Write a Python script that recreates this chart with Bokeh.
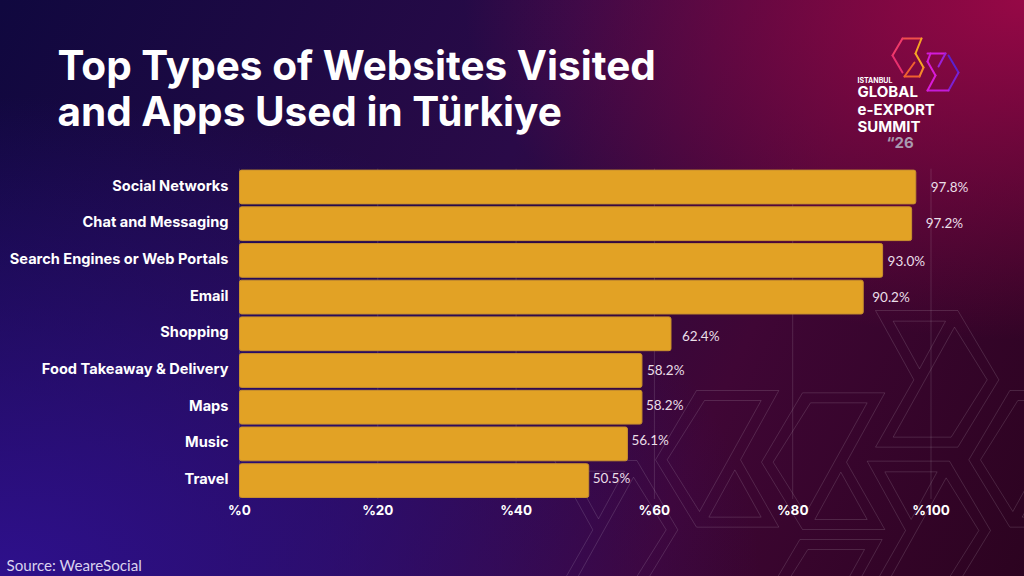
from bokeh.core.properties import value
from bokeh.embed import file_html
from bokeh.models import (ColumnDataSource, FixedTicker, GlobalInlineStyleSheet, Label,
                          LinearAxis, Range1d)
from bokeh.plotting import figure
from bokeh.resources import INLINE

categories = ["Social Networks", "Chat and Messaging", "Search Engines or Web Portals", "Email",
              "Shopping", "Food Takeaway & Delivery", "Maps", "Music", "Travel"]
values = [97.8, 97.2, 93.0, 90.2, 62.4, 58.2, 58.2, 56.1, 50.5]
x_ticks = [0, 20, 40, 60, 80, 100]
x_tick_labels = ["%0", "%20", "%40", "%60", "%80", "%100"]
title_lines = ["Top Types of Websites Visited", "and Apps Used in Türkiye"]
source_text = "Source: WeareSocial"

# the value labels sit unevenly in the original, pixels from the bar end / row centre
label_dx = [15, 14, 5, 9, 11, 5, 4, 4, 4]
label_dy = [0, -1, 1, 0, 2, -1, -2, -4, -3]

# page pixels of the axes: x=0 and x=100, first and last row
X0, X100 = 239.0, 930.5
ROW0, ROW_STEP = 186.5, 36.7
PAGE_W, PAGE_H = 1024, 576

css = """
html { background:
  radial-gradient(ellipse 560px 340px at 100% 0%, rgba(150,8,70,1), rgba(150,8,70,0)),
  radial-gradient(ellipse 760px 480px at 0% 100%, rgba(46,16,140,1), rgba(46,16,140,0)),
  linear-gradient(115deg, #10083f 0%, #2a0a48 45%, #3f0635 70%, #2c0320 100%);
  background-size: 1024px 576px; background-repeat: no-repeat; }
"""

px_per_unit = (X100 - X0) / 100
p = figure(width=PAGE_W, height=PAGE_H, output_backend="svg", toolbar_location=None,
           x_range=Range1d(-X0 / px_per_unit, (PAGE_W - X0) / px_per_unit),
           y_range=Range1d((PAGE_H - ROW0) / ROW_STEP, -ROW0 / ROW_STEP),
           x_axis_location=None, y_axis_location=None, min_border=0,
           background_fill_alpha=0, border_fill_alpha=0, outline_line_color=None,
           stylesheets=[GlobalInlineStyleSheet(css=css)])
p.grid.visible = False
# second pair of ranges in page pixels for the decoration and the logo
p.extra_x_ranges = {"px": Range1d(0, PAGE_W)}
p.extra_y_ranges = {"px": Range1d(PAGE_H, 0)}


def page(points, dx=0, dy=0):
    return [600 + (x + dx) / 3 for x, y in points], [300 + (y + dy) / 3 for x, y in points]


chevron = [[(825, 30), (1072, 30), (1195, 238), (1072, 440), (825, 440), (940, 238), (825, 30)],
           [(878, 62), (1035, 62), (957, 205), (878, 62)],
           [(1062, 80), (1160, 238), (1052, 410), (878, 410), (1062, 80)]]
notch = [[(288, 270), (535, 270), (420, 478), (535, 680), (288, 680), (165, 478), (288, 270)],
         [(312, 300), (482, 300), (297, 633), (200, 478), (312, 300)],
         [(403, 508), (482, 650), (325, 650), (403, 508)]]
shapes = [(chevron, 0, 0), (chevron, -25, 452), (chevron, -963, 450),
          (notch, 0, 0), (notch, 318, 7), (notch, 940, 0), (notch, 310, 447)]
xs, ys = [], []
for shape, dx, dy in shapes:
    for ring in shape:
        rx, ry = page(ring, dx, dy)
        xs.append(rx)
        ys.append(ry)
p.multi_line(xs, ys, line_color="white", line_alpha=0.13, line_width=1,
             x_range_name="px", y_range_name="px")

# gridlines only run over the bars
p.segment(x0=x_ticks, x1=x_ticks, y0=[-0.5] * len(x_ticks), y1=[len(values) - 0.5] * len(x_ticks),
          line_color="white", line_alpha=0.13, line_width=1)

rows = list(range(len(categories)))
p.hbar(y=rows, right=values, left=0, height=0.92, fill_color="#E2A225",
       line_color="#C8902E", line_width=1, border_radius=2)

src = ColumnDataSource(dict(x=values, y=rows, text=[f"{v:.1f}%" for v in values],
                            dx=label_dx, dy=label_dy))
p.text("x", "y", text="text", x_offset="dx", y_offset="dy", source=src, text_color="#EADFE8",
       text_font=value("Lato"), text_font_size="13.5px", text_baseline="middle", text_align="left")

# row labels sit a touch above the bar centres
label_rows = [r - 0.04 for r in rows]
xaxis = LinearAxis(fixed_location=8.415, ticker=FixedTicker(ticks=x_ticks),
                   major_label_overrides=dict(zip(x_ticks, x_tick_labels)))
yaxis = LinearAxis(fixed_location=0, ticker=FixedTicker(ticks=label_rows),
                   major_label_overrides=dict(zip(label_rows, categories)))
for ax in (xaxis, yaxis):
    ax.axis_line_color = None
    ax.major_tick_line_color = None
    ax.minor_tick_line_color = None
    ax.major_label_text_color = "white"
    ax.major_label_text_font = "Inter"
    ax.major_label_text_font_style = "bold"
xaxis.major_label_text_font_size = "13.5px"
yaxis.major_label_text_font_size = "14.6px"
xaxis.major_label_standoff = 0
yaxis.major_label_standoff = 5
p.add_layout(xaxis, "below")
p.add_layout(yaxis, "left")

for line, mid in zip(title_lines, [65, 111]):
    p.add_layout(Label(x=57, y=mid, text=line, x_range_name="px", y_range_name="px",
                       text_color="white", text_font="Inter", text_font_style="bold",
                       text_font_size="40.5px", text_baseline="middle"))
p.add_layout(Label(x=6, y=564, text=source_text, x_range_name="px", y_range_name="px",
                   text_color="#D9D2EE", text_font="Lato", text_font_size="15.2px",
                   text_baseline="middle"))

# logo, two outlined arrows with a colour run along them
arrow_segments = [
    ([902, 921], [38, 38], "#F0504A"), ([921, 915], [38, 53], "#F5A623"), ([915, 923], [53, 67], "#F5A623"),
    ([923, 919], [67, 76], "#F58A2A"), ([919, 904], [76, 76], "#F0602F"), ([904, 914], [76, 62], "#F0602F"),
    ([902, 892], [38, 55], "#F03A6A"), ([892, 902], [55, 72], "#E8306E"),
    ([927, 945], [53, 53], "#D21CD8"), ([945, 938], [53, 66], "#9A22D8"),
    ([948, 958], [55, 72], "#5A22D0"), ([958, 948], [72, 90], "#7A22D2"), ([948, 927], [90, 90], "#C41CD8"),
    ([927, 935], [90, 75], "#D81CD8"), ([935, 927], [75, 61], "#D81CD8"), ([927, 930], [61, 53], "#D21CD8"),
]
for sx, sy, color in arrow_segments:
    p.line(sx, sy, line_color=color, line_width=2, line_cap="round", x_range_name="px", y_range_name="px")

logo_text = [("ISTANBUL", 857, 80, "7px", "white"), ("GLOBAL", 857, 91, "15px", "white"),
             ("e-EXPORT", 857, 109, "15px", "white"), ("SUMMIT", 857, 126, "15px", "white"),
             ("\u201c26", 886, 142, "15px", "#A99AB0")]
for text, x, y, size, color in logo_text:
    p.add_layout(Label(x=x, y=y, text=text, x_range_name="px", y_range_name="px", text_color=color,
                       text_font="Inter", text_font_style="bold", text_font_size=size,
                       text_baseline="middle"))

open("out.html", "w").write(file_html(p, INLINE))
